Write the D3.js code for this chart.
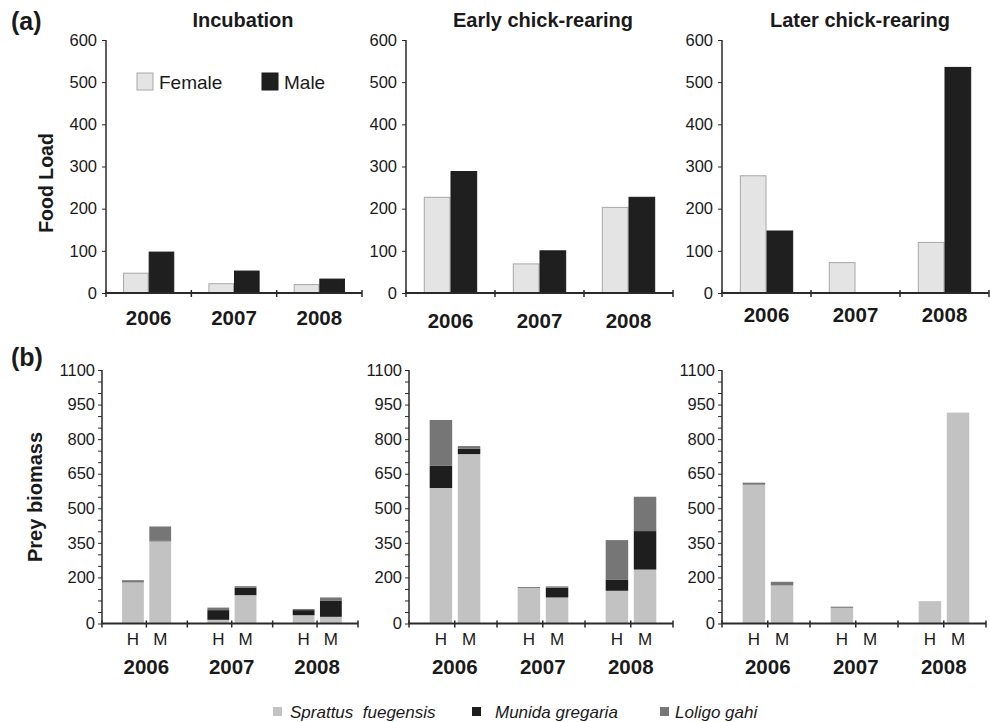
<!DOCTYPE html>
<html>
<head>
<meta charset="utf-8">
<script src="https://cdn.jsdelivr.net/npm/d3@7/dist/d3.min.js"></script>
<style>
  html, body { margin: 0; padding: 0; background: #fff; }
  svg { display: block; font-family: "Liberation Sans", Arial, sans-serif; }
</style>
</head>
<body>
<svg id="chart" width="990" height="722"></svg>
<script>
// ---- data ----
const years = ["2006", "2007", "2008"];
const stages = ["Incubation", "Early chick-rearing", "Later chick-rearing"];
const sexes = ["Female", "Male"];

// food load per stage (rows) and year (columns)
const femaleLoad = [[47, 22, 20], [227, 69, 203], [278, 72, 120]];
const maleLoad   = [[97, 52, 33], [288, 100, 227], [147, 0, 535]];
const loadTicks  = [0, 100, 200, 300, 400, 500, 600];

// prey biomass by species, H and M bars, per stage (rows) and year (columns)
const species = ["Sprattus  fuegensis", "Munida gregaria", "Loligo gahi"];
const sprattusH = [[178, 16, 36], [588, 154, 142], [602, 68, 97]];
const sprattusM = [[357, 123, 29], [735, 113, 234], [165, 0, 915]];
const munidaH   = [[0, 42, 22], [96, 0, 49], [0, 0, 0]];
const munidaM   = [[3, 33, 69], [23, 42, 167], [0, 0, 0]];
const loligoH   = [[10, 11, 5], [199, 4, 171], [9, 5, 0]];
const loligoM   = [[61, 6, 15], [12, 6, 149], [16, 0, 0]];
const groups = ["H", "M"];
const biomassLabels = [0, 200, 350, 500, 650, 800, 950, 1100];
const biomassMinor = d3.range(0, 1101, 50);

// ---- styles ----
const sexColor = { Female: "#e4e4e4", Male: "#1f1f1f" };
const sexStroke = { Female: "#a8a8a8", Male: "#1a1a1a" };
const speciesColor = ["#c2c2c2", "#1e1e1e", "#767676"];
const axisColor = "#2a2a2a";
const textColor = "#1a1a1a";
const fontFamily = "Liberation Sans, Arial, sans-serif";

const svg = d3.select("#chart");

// panel frames: [axis x, axis width]
const topFrames = [[106, 256], [406, 267], [722, 267]];
const topY = [40, 293];
const botFrames = [[102, 256], [409, 264], [722, 264]];
const botY = [370, 623.5];
const titleX = [243, 543, 860];
const topYearBase = [325, 328, 322];

function drawAxisLines(g, x0, w, yTop, yBot) {
  g.append("line").attr("x1", x0).attr("x2", x0).attr("y1", yTop).attr("y2", yBot)
    .attr("stroke", axisColor).attr("stroke-width", 1.5);
  g.append("line").attr("x1", x0).attr("x2", x0 + w).attr("y1", yBot).attr("y2", yBot)
    .attr("stroke", axisColor).attr("stroke-width", 2);
}

// ---- (a) food load ----
stages.forEach((stage, i) => {
  const [ax, aw] = topFrames[i];
  const g = svg.append("g");
  const y = d3.scaleLinear().domain([0, 600]).range([topY[1], topY[0]]);
  const x0 = d3.scaleBand().domain(years).range([ax, ax + aw]);
  const bw = x0.bandwidth();
  const x1 = d3.scaleBand().domain(sexes).range([bw * 0.2, bw * 0.8]);

  // y axis with ticks on the left
  const yAxis = d3.axisLeft(y).tickValues(loadTicks).tickSize(4).tickPadding(5).tickFormat(d3.format("d"));
  const ya = g.append("g").attr("transform", `translate(${ax},0)`).call(yAxis);
  ya.select(".domain").remove();
  ya.selectAll(".tick line").attr("stroke", axisColor);
  ya.selectAll(".tick text").attr("font-size", 16.5).attr("fill", textColor)
    .attr("font-family", fontFamily);

  // bars
  years.forEach((yr, j) => {
    const vals = [femaleLoad[i][j], maleLoad[i][j]];
    sexes.forEach((s, k) => {
      if (vals[k] <= 0) return;
      g.append("rect")
        .attr("x", x0(yr) + x1(s) + 0.5)
        .attr("y", y(vals[k]))
        .attr("width", x1.bandwidth() - 1)
        .attr("height", y(0) - y(vals[k]))
        .attr("fill", sexColor[s])
        .attr("stroke", sexStroke[s]).attr("stroke-width", 1);
    });
  });

  drawAxisLines(g, ax, aw, topY[0], topY[1]);
  // category boundary ticks
  const bounds = years.map(yr => x0(yr)).concat([ax + aw]);
  bounds.forEach(bx => {
    g.append("line").attr("x1", bx).attr("x2", bx).attr("y1", topY[1] - 3).attr("y2", topY[1] + 4)
      .attr("stroke", axisColor).attr("stroke-width", 1.5);
  });

  // year labels
  years.forEach(yr => {
    g.append("text").attr("x", x0(yr) + bw / 2).attr("y", topYearBase[i])
      .attr("text-anchor", "middle").attr("font-size", 20.5).attr("font-weight", "bold")
      .attr("fill", textColor).text(yr);
  });

  // stage title
  svg.append("text").attr("x", titleX[i]).attr("y", 27).attr("text-anchor", "middle")
    .attr("font-size", 20).attr("font-weight", "bold").attr("fill", textColor).text(stage);
});

// sex legend
const sexLegend = svg.append("g");
[[137, 159], [262, 284]].forEach(([bx, tx], k) => {
  sexLegend.append("rect").attr("x", bx).attr("y", 73).attr("width", 16).attr("height", 17)
    .attr("fill", sexColor[sexes[k]]).attr("stroke", sexStroke[sexes[k]]);
  sexLegend.append("text").attr("x", tx).attr("y", 89).attr("font-size", 19)
    .attr("fill", textColor).text(sexes[k]);
});

// ---- (b) prey biomass ----
const layers = [[sprattusH, sprattusM], [munidaH, munidaM], [loligoH, loligoM]];
stages.forEach((stage, i) => {
  const [ax, aw] = botFrames[i];
  const g = svg.append("g");
  const y = d3.scaleLinear().domain([0, 1100]).range([botY[1], botY[0]]);
  const x0 = d3.scaleBand().domain(years).range([ax, ax + aw]);
  const bw = x0.bandwidth();
  const x1 = d3.scaleBand().domain(groups).range([bw * 0.235, bw * 0.81]).paddingInner(0.2);

  // minor ticks every 50, labels at selected values
  const ya = g.append("g").attr("transform", `translate(${ax},0)`)
    .call(d3.axisLeft(y).tickValues(biomassMinor).tickSize(4).tickFormat(""));
  ya.select(".domain").remove();
  ya.selectAll(".tick line").attr("stroke", axisColor);
  const yl = g.append("g").attr("transform", `translate(${ax},0)`)
    .call(d3.axisLeft(y).tickValues(biomassLabels).tickSize(0).tickPadding(7).tickFormat(d3.format("d")));
  yl.select(".domain").remove();
  yl.selectAll(".tick text").attr("font-size", 16.5).attr("fill", textColor)
    .attr("font-family", fontFamily);

  // stacked bars
  years.forEach((yr, j) => {
    groups.forEach((gr, k) => {
      const stack = d3.stack().keys([0, 1, 2]).value((d, key) => layers[key][k][i][j])([null]);
      stack.forEach((layer, s) => {
        const [lo, hi] = layer[0];
        if (hi - lo <= 0) return;
        g.append("rect")
          .attr("x", x0(yr) + x1(gr))
          .attr("y", y(hi))
          .attr("width", x1.bandwidth())
          .attr("height", y(lo) - y(hi))
          .attr("fill", speciesColor[s]);
      });
    });
  });

  drawAxisLines(g, ax, aw, botY[0], botY[1]);
  const marks = years.map(yr => x0(yr)).concat([ax + aw]).concat(years.map(yr => x0(yr) + bw * 0.52));
  marks.forEach(bx => {
    g.append("line").attr("x1", bx).attr("x2", bx).attr("y1", botY[1] - 3).attr("y2", botY[1] + 4)
      .attr("stroke", axisColor).attr("stroke-width", 1.5);
  });

  years.forEach(yr => {
    groups.forEach(gr => {
      g.append("text").attr("x", x0(yr) + x1(gr) + x1.bandwidth() / 2).attr("y", 645)
        .attr("text-anchor", "middle").attr("font-size", 17).attr("fill", textColor).text(gr);
    });
    g.append("text").attr("x", x0(yr) + bw * 0.52).attr("y", 674)
      .attr("text-anchor", "middle").attr("font-size", 20.5).attr("font-weight", "bold")
      .attr("fill", textColor).text(yr);
  });
});

// panel letters and y titles
svg.append("text").attr("x", 11).attr("y", 30).attr("font-size", 25).attr("font-weight", "bold")
  .attr("fill", textColor).text("(a)");
svg.append("text").attr("x", 11).attr("y", 366).attr("font-size", 25).attr("font-weight", "bold")
  .attr("fill", textColor).text("(b)");
svg.append("text").attr("transform", "translate(53,183) rotate(-90)").attr("text-anchor", "middle")
  .attr("font-size", 19.5).attr("font-weight", "bold").attr("fill", textColor).text("Food Load");
svg.append("text").attr("transform", "translate(42,497) rotate(-90)").attr("text-anchor", "middle")
  .attr("font-size", 20).attr("font-weight", "bold").attr("fill", textColor).text("Prey biomass");

// species legend
const spLegend = svg.append("g");
[[273, 290], [472, 495], [660, 675]].forEach(([bx, tx], s) => {
  spLegend.append("rect").attr("x", bx).attr("y", 707).attr("width", 9).attr("height", 9)
    .attr("fill", speciesColor[s]);
  spLegend.append("text").attr("x", tx).attr("y", 718).attr("font-size", 17)
    .attr("font-style", "italic").attr("fill", textColor)
    .style("white-space", "pre").text(species[s]);
});
</script>
</body>
</html>
